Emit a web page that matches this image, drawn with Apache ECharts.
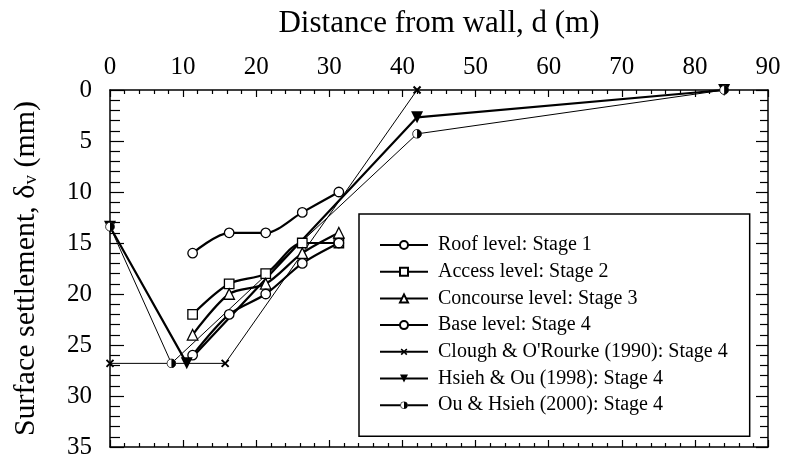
<!DOCTYPE html>
<html>
<head>
<meta charset="utf-8">
<script src="https://cdn.jsdelivr.net/npm/echarts@6/dist/echarts.min.js"></script>
<style>
  html, body { margin: 0; padding: 0; background: #fff; }
  #chart { width: 785px; height: 459px; }
</style>
</head>
<body>
<div id="chart"></div>
<script>
// Distance ticks (m) and settlement ticks (mm)
const distTicks = [0, 10, 20, 30, 40, 50, 60, 70, 80, 90];
const settleTicks = [0, 5, 10, 15, 20, 25, 30, 35];

// Measured surface settlements at the survey points behind the wall
const levelDist = [11.3, 16.3, 21.3, 26.3, 31.3];
const roofStage1 = [16, 14, 14, 12, 10];
const accessStage2 = [22, 19, 18, 15, 15];
const concourseStage3 = [24, 20, 19, 16, 14];
const baseStage4 = [26, 22, 20, 17, 15];

// Empirical settlement envelopes for stage 4
const cloughDist = [0, 15.75, 42];
const cloughSettle = [26.8, 26.8, 0];
const hsiehDist = [0, 10.5, 42, 84];
const hsiehSettle = [13.4, 26.8, 2.68, 0];
const ouDist = [0, 8.4, 42, 84];
const ouSettle = [13.4, 26.8, 4.3, 0];

const seriesNames = [
  'Roof level: Stage 1',
  'Access level: Stage 2',
  'Concourse level: Stage 3',
  'Base level: Stage 4',
  "Clough & O'Rourke (1990): Stage 4",
  'Hsieh & Ou (1998): Stage 4',
  'Ou & Hsieh (2000): Stage 4'
];

const FONT = 'Liberation Serif';

function pairs(xs, ys) {
  return xs.map((x, i) => [x, ys[i]]);
}

function svgSymbol(svg) {
  return 'image://data:image/svg+xml;charset=utf-8,' + encodeURIComponent(svg);
}

const crossSymbol = svgSymbol(
  "<svg xmlns='http://www.w3.org/2000/svg' width='20' height='20' viewBox='0 0 20 20'>" +
  "<path d='M3 3L17 17M17 3L3 17' stroke='black' stroke-width='4' fill='none'/></svg>"
);
const halfCircleSymbol = svgSymbol(
  "<svg xmlns='http://www.w3.org/2000/svg' width='20' height='20' viewBox='0 0 20 20'>" +
  "<circle cx='10' cy='10' r='8.8' fill='white'/>" +
  "<path d='M10 1.2 A8.8 8.8 0 0 1 10 18.8 Z' fill='black'/>" +
  "<circle cx='10' cy='10' r='8.8' fill='none' stroke='black' stroke-width='1.6'/></svg>"
);

const openMarker = { color: '#fff', borderColor: '#000', borderWidth: 1.3 };

function measured(name, values, symbol, size) {
  return {
    name: name,
    type: 'line',
    data: pairs(levelDist, values),
    smooth: 0.3,
    symbol: symbol,
    symbolSize: size,
    clip: false,
    lineStyle: { color: '#000', width: 2.2 },
    itemStyle: openMarker
  };
}

const chart = echarts.init(document.getElementById('chart'), null, { renderer: 'canvas' });

const axisLineStyle = { show: true, onZero: false, lineStyle: { color: '#000', width: 1.5 } };

const xAxisBase = {
  type: 'value',
  min: 0,
  max: 90,
  interval: 10,
  splitLine: { show: false },
  axisLine: axisLineStyle,
  axisTick: { show: true, inside: true, length: 7, lineStyle: { color: '#000', width: 1.2 } },
  minorTick: { show: true, splitNumber: 5, length: 4, lineStyle: { color: '#000', width: 1.2 } }
};

const yAxisBase = {
  type: 'value',
  inverse: true,
  min: 0,
  max: 35,
  interval: 5,
  splitLine: { show: false },
  axisLine: axisLineStyle
};

chart.setOption({
  animation: false,
  backgroundColor: '#fff',
  textStyle: { fontFamily: FONT, color: '#000' },
  grid: { left: 110, right: 17, top: 90, bottom: 12, containLabel: false, outerBoundsMode: 'none' },
  xAxis: [
    Object.assign({}, xAxisBase, {
      position: 'top',
      name: 'Distance from wall, d (m)',
      nameLocation: 'middle',
      nameGap: 51,
      nameTextStyle: { fontFamily: FONT, fontSize: 31, color: '#000' },
      axisLabel: {
        fontFamily: FONT, fontSize: 25, color: '#000', margin: 10,
        formatter: v => (distTicks.includes(v) ? String(v) : '')
      }
    }),
    Object.assign({}, xAxisBase, {
      position: 'bottom',
      axisLabel: { show: false }
    })
  ],
  yAxis: [
    Object.assign({}, yAxisBase, {
      position: 'left',
      name: 'Surface settlement, δ{sub|v} (mm)',
      nameLocation: 'middle',
      nameRotate: 90,
      nameGap: 69,
      nameTextStyle: {
        fontFamily: FONT, fontSize: 30, color: '#000',
        rich: { sub: { fontFamily: FONT, fontSize: 19, color: '#000', verticalAlign: 'bottom' } }
      },
      axisTick: { show: true, inside: true, length: 14, lineStyle: { color: '#000', width: 1.2 } },
      minorTick: { show: true, splitNumber: 5, length: 10, lineStyle: { color: '#000', width: 1.2 } },
      axisLabel: {
        fontFamily: FONT, fontSize: 25, color: '#000', margin: 18,
        formatter: v => (settleTicks.includes(v) ? String(v) : '')
      }
    }),
    Object.assign({}, yAxisBase, {
      position: 'right',
      axisTick: { show: true, inside: true, length: 12, lineStyle: { color: '#000', width: 1.2 } },
      minorTick: { show: true, splitNumber: 5, length: 8, lineStyle: { color: '#000', width: 1.2 } },
      axisLabel: { show: false }
    })
  ],
  legend: {
    orient: 'vertical',
    left: 359,
    top: 214,
    padding: [21, 22, 21, 20],
    itemGap: 6.7,
    itemWidth: 48,
    itemHeight: 10,
    borderColor: '#000',
    borderWidth: 1.5,
    borderRadius: 0,
    backgroundColor: '#fff',
    textStyle: { fontFamily: FONT, fontSize: 20, color: '#000', padding: [0, 0, 0, 5] },
    data: seriesNames
  },
  series: [
    measured(seriesNames[0], roofStage1, 'circle', 9.5),
    measured(seriesNames[1], accessStage2, 'rect', 9.5),
    measured(seriesNames[2], concourseStage3, 'triangle', 10.5),
    measured(seriesNames[3], baseStage4, 'circle', 9.5),
    {
      name: seriesNames[4],
      type: 'line',
      data: pairs(cloughDist, cloughSettle),
      symbol: crossSymbol,
      symbolSize: 10,
      clip: false,
      lineStyle: { color: '#000', width: 1 },
      itemStyle: { color: '#000' }
    },
    {
      name: seriesNames[5],
      type: 'line',
      data: pairs(hsiehDist, hsiehSettle),
      symbol: 'triangle',
      symbolRotate: 180,
      symbolSize: 12,
      clip: false,
      lineStyle: { color: '#000', width: 2.2 },
      itemStyle: { color: '#000' }
    },
    {
      name: seriesNames[6],
      type: 'line',
      data: pairs(ouDist, ouSettle),
      symbol: halfCircleSymbol,
      symbolSize: 10,
      clip: false,
      lineStyle: { color: '#000', width: 1 },
      itemStyle: { color: '#000' }
    }
  ]
});
</script>
</body>
</html>
